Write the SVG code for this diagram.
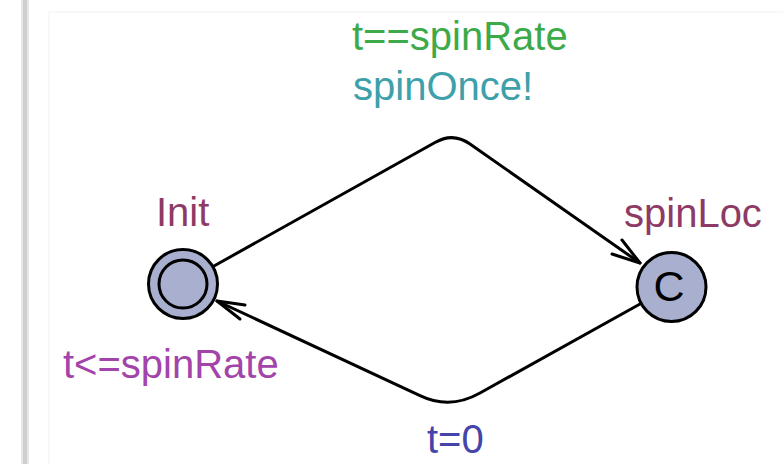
<svg xmlns="http://www.w3.org/2000/svg" width="783" height="464" viewBox="0 0 783 464">
<style>
text{font-family:"Liberation Sans",Arial,sans-serif;font-size:40px}
.loc{fill:#A9AFCF;stroke:#000;stroke-width:3}
.edge{fill:none;stroke:#000;stroke-width:3;stroke-linejoin:round;stroke-linecap:round}
.name{fill:#8E3A66}
</style>
<rect x="0" y="0" width="783" height="464" fill="#fff"/>
<rect x="21" y="0" width="8" height="464" fill="#e6e6e6"/>
<rect x="23" y="0" width="4" height="464" fill="#cfcfcf"/>
<rect x="49" y="12" width="740" height="470" fill="none" stroke="#f2f2f2" stroke-width="1"/>
<g id="connectors">
<g id="edge-init-spinloc">
<path class="edge" d="M214,266 L435,142.5 Q453,132 470,144 L640,263"/>
<path class="edge" d="M622,240 L640,263 L612,254"/>
</g>
<g id="edge-spinloc-init">
<path class="edge" d="M640,304 L480,393 Q450,410 420,395.6 L217,301"/>
<path class="edge" d="M245,305 L217,301 L240,319"/>
</g>
</g>
<g id="init">
<circle class="loc" cx="183" cy="284" r="34.5"/>
<circle cx="183" cy="284" r="24" fill="none" stroke="#000" stroke-width="3"/>
<text class="name" x="156" y="226">Init</text>
<text x="63" y="378" fill="#A244AA">t&lt;=spinRate</text>
</g>
<g id="spinLoc">
<circle class="loc" cx="671.5" cy="287" r="34.5"/>
<text x="669" y="301" text-anchor="middle" fill="#000" style="font-size:43px">C</text>
<text class="name" x="624" y="227">spinLoc</text>
</g>
<g id="labels">
<text x="352" y="50" fill="#3DAA4A">t==spinRate</text>
<text x="353" y="100" fill="#3DA0AA">spinOnce!</text>
<text x="427" y="453" fill="#4444AA">t=0</text>
</g>
</svg>
